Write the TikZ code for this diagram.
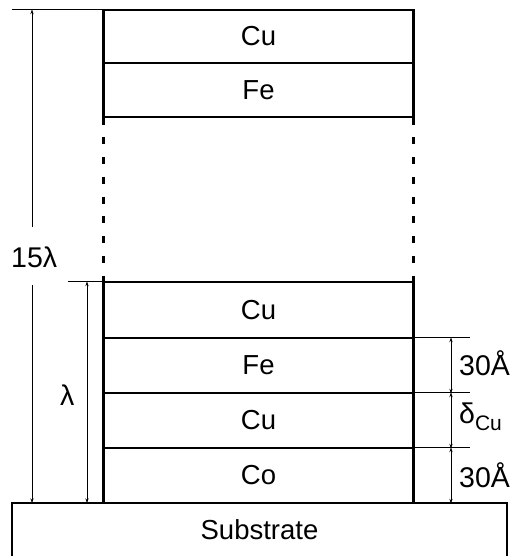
\documentclass[tikz,border=0pt]{standalone}
\usepackage{fontspec}
\setmainfont{Liberation Sans}
\usetikzlibrary{arrows.meta}
\begin{document}
\begin{tikzpicture}[x=1pt,y=-1pt,
  layer/.style={draw, line width=1.4pt, minimum width=309pt, inner sep=0pt,
    font=\fontsize{27.5}{32}\selectfont},
  side/.style={line width=2.6pt},
  gapdash/.style={line width=2.6pt, dash pattern=on 7pt off 12.75pt},
  ext/.style={line width=1.2pt},
  dim/.style={line width=1pt, arrows={-Stealth[length=5pt,width=3.2pt]}},
  dlbl/.style={inner sep=0pt, font=\fontsize{28.5}{32}\selectfont}]
\useasboundingbox (0,0) rectangle (515,556);
% layers
\node[layer, minimum height=53pt] (cuA) at (258.5,36.5) {Cu};
\node[layer, minimum height=54pt] (feA) at (258.5,90) {Fe};
\node[layer, minimum height=56pt] (cuB) at (258.5,310) {Cu};
\node[layer, minimum height=55pt] (feB) at (258.5,365.5) {Fe};
\node[layer, minimum height=55pt] (cuC) at (258.5,420.5) {Cu};
\node[layer, minimum height=55pt] (coA) at (258.5,475.5) {Co};
\node[minimum width=495pt, minimum height=53pt, inner sep=0pt,
  font=\fontsize{27.5}{32}\selectfont] (sub) at (259.5,530) {Substrate};
\draw[line width=1.8pt] (sub.south west) -- (sub.north west) -- (sub.north east) -- (sub.south east);
% thick sides
\draw[side] (cuA.north west) -- (feA.south west);
\draw[side] (cuA.north east) -- (feA.south east);
\draw[gapdash] (feA.south west) -- (cuB.north west);
\draw[gapdash] (feA.south east) -- (cuB.north east);
\draw[side] (cuB.north west) -- (coA.south west);
\draw[side] (cuB.north east) -- (coA.south east);
% reference coordinates
\coordinate (xtop) at (12,0);
\coordinate (xmid) at (68,0);
\coordinate (x15) at (32,0);
\coordinate (xl) at (87,0);
\coordinate (xr) at (451,0);
\coordinate (xe) at (470,0);
\coordinate (g1) at (32,227);
\coordinate (g2) at (32,285);
% extension lines
\draw[ext] (cuA.north west) -- (cuA.north west -| xtop);
\draw[ext] (cuB.north west) -- (cuB.north west -| xmid);
\draw[ext] (feB.north east) -- (feB.north east -| xe);
\draw[ext] (cuC.north east) -- (cuC.north east -| xe);
\draw[ext] (coA.north east) -- (coA.north east -| xe);
% labels
\node[dlbl, anchor=base west] (l15) at (11,267) {15λ};
\node[dlbl, anchor=base west] (llam) at (60,405) {λ};
\node[dlbl, anchor=base west] (la1) at (459,375) {30Å};
\node[dlbl, anchor=base west] (ld) at (459,423) {δ\raisebox{-0.25em}{\fontsize{21}{24}\selectfont Cu}};
\node[dlbl, anchor=base west] (la2) at (459,487) {30Å};
% dimension lines
\draw[dim] (g1) -- (cuA.north -| x15);
\draw[dim] (g2) -- (sub.north -| x15);
\draw[dim, arrows={Stealth[length=5pt,width=3.2pt]-Stealth[length=5pt,width=3.2pt]}] (cuB.north -| xl) -- (sub.north -| xl);
\draw[dim, arrows={Stealth[length=5pt,width=3.2pt]-Stealth[length=5pt,width=3.2pt]}] (feB.north -| xr) -- (feB.south -| xr);
\draw[dim, arrows={Stealth[length=5pt,width=3.2pt]-Stealth[length=5pt,width=3.2pt]}] (cuC.north -| xr) -- (cuC.south -| xr);
\draw[dim, arrows={Stealth[length=5pt,width=3.2pt]-Stealth[length=5pt,width=3.2pt]}] (coA.north -| xr) -- (coA.south -| xr);
\end{tikzpicture}
\end{document}
